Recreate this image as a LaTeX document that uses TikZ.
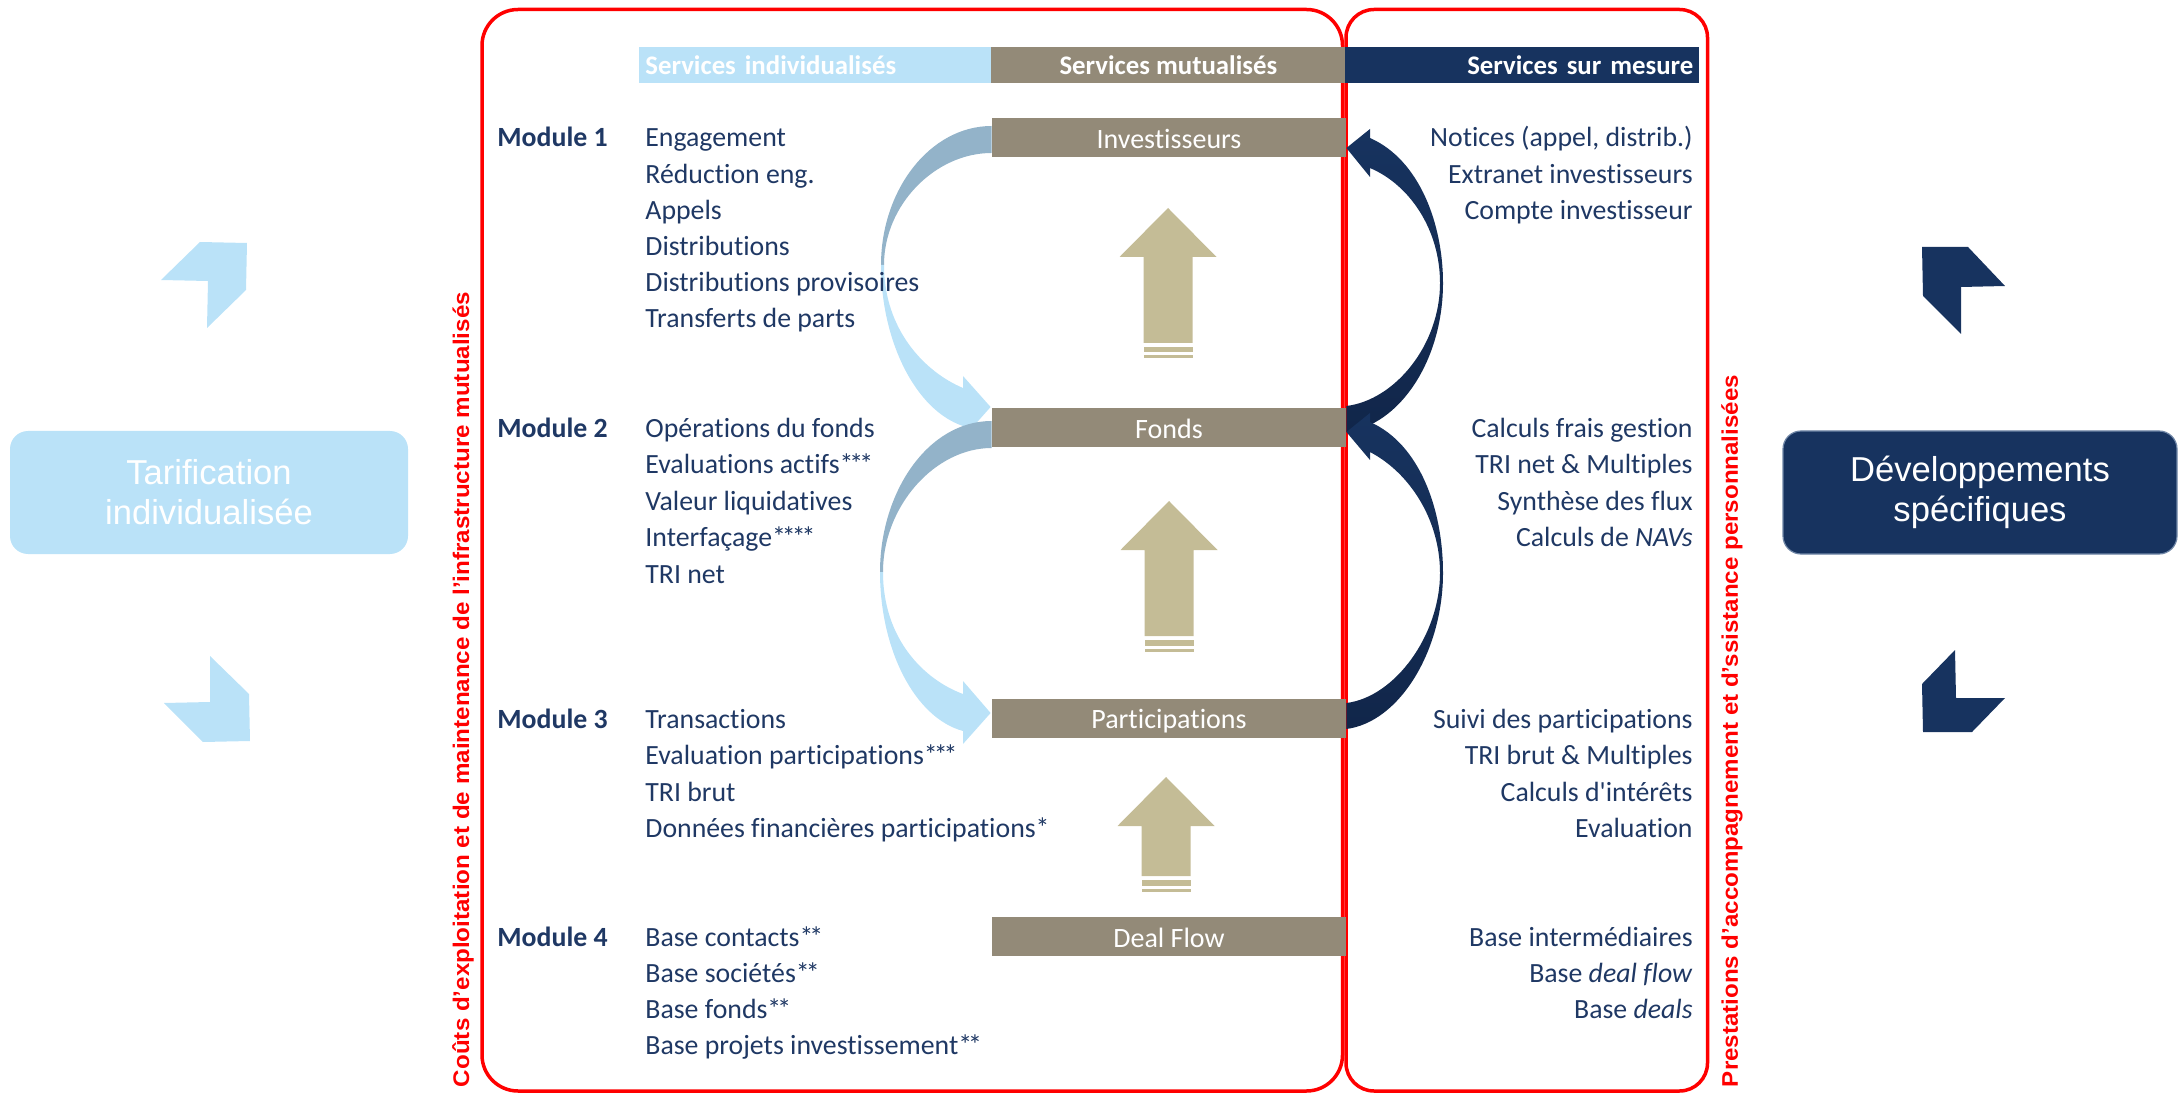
\documentclass[tikz,border=0pt]{standalone}
\usepackage{fontspec}
\usepackage{graphicx}
\setmainfont{Carlito}[Ligatures={TeXOff,NoCommon}]
\newfontfamily\arialf{Liberation Sans}
\usetikzlibrary{calc}
\definecolor{redl}{HTML}{FF0000}
\definecolor{navy}{HTML}{17335F}
\definecolor{navyd}{HTML}{11264A}
\definecolor{txt}{HTML}{1F3864}
\definecolor{lblue}{HTML}{BAE2F8}
\definecolor{steel}{HTML}{93B3C9}
\definecolor{graybar}{HTML}{938A78}
\definecolor{tanc}{HTML}{C4BC96}
\definecolor{devborder}{HTML}{6F86A6}
\newcommand{\stx}{*\kern-2pt}
\pgfdeclarelayer{bgzero}
\pgfdeclarelayer{bgone}
\pgfsetlayers{bgzero,bgone,main}
\begin{document}
\begin{tikzpicture}[x=0.5pt,y=-0.5pt,
  bar/.style={fill=graybar, minimum width=177pt, minimum height=19.5pt, inner sep=0pt, text=white, font=\fontsize{14}{16}\selectfont, text height=10.8pt, text depth=0pt},
  hdr/.style={minimum height=18pt, inner sep=0pt, text=white, font=\bfseries\fontsize{13.4}{16}\selectfont, text height=9pt, text depth=0pt},
  item/.style={anchor=base west, inner sep=0pt, text=txt, font=\fontsize{13.9}{16}\selectfont},
  ritem/.style={anchor=base east, inner sep=0pt, text=txt, font=\fontsize{13.9}{16}\selectfont},
  modl/.style={anchor=base west, inner sep=0pt, text=txt, font=\bfseries\fontsize{13.9}{16}\selectfont},
  frame/.style={draw=redl, line width=1.75pt},
  sidebox/.style={rounded corners=9pt, minimum height=61.5pt, align=center, font=\arialf\fontsize{17.3}{20}\selectfont, text=white, inner sep=0pt},
  vlabel/.style={rotate=90, text=redl, font=\arialf\bfseries\fontsize{11.3}{13}\selectfont, inner sep=0pt},
]
\useasboundingbox (0,0) rectangle (2179,1096);

% frames
\begin{pgfonlayer}{bgzero}
\draw[frame, rounded corners=18pt] (482,9.5) rectangle (1342.5,1091);
\draw[frame, rounded corners=14pt] (1346,9.5) rectangle (1707.5,1091);
\end{pgfonlayer}

% header bars
\node[hdr, fill=lblue, text width=170pt, inner xsep=3pt, align=left, anchor=north west] (hind) at (639,47) {Services individualisés};
\node[hdr, fill=graybar, minimum width=177pt, anchor=north west] (hmut) at (991,47) {Services mutualisés};
\node[hdr, fill=navy, text width=171pt, inner xsep=3pt, align=right, anchor=north west] (hsur) at (1345,47) {Services sur mesure};

% grey bars
\node[bar] (inv) at (1169,137.5) {Investisseurs};
\node[bar] (fonds) at (1169,427.5) {Fonds};
\node[bar] (part) at (1169,718) {Participations};
\node[bar] (deal) at (1169,936.5) {Deal Flow};

% curved arrows
\begin{pgfonlayer}{bgone}
% left: Investisseurs -> Fonds
\fill[steel] ($(inv.west)+(0,-11.5)$) .. controls (930,126) and (881,190) .. (881,265) -- (884,265) .. controls (884,205) and (935,153) .. ($(inv.west)+(0,15.5)$) -- cycle;
\fill[lblue] (881,265) .. controls (881,340) and (915,410) .. (963,426) -- (963,438) -- ($(fonds.west)+(-1,-20.5)$) -- (963,376) -- (963,388) .. controls (925,372) and (884,330) .. (884,265) -- cycle;
% left: Fonds -> Participations
\fill[steel] ($(fonds.west)+(0,-6.5)$) .. controls (928,421) and (880,492) .. (880,572) -- (883,572) .. controls (883,506) and (935,448) .. ($(fonds.west)+(0,20.5)$) -- cycle;
\fill[lblue] (880,572) .. controls (880,650) and (915,718) .. (963,731) -- (963,744) -- ($(part.west)+(-1,-5)$) -- (963,681) -- (963,694) .. controls (925,680) and (883,640) .. (883,572) -- cycle;
% right: Fonds -> Investisseurs
\shade[top color=navy, bottom color=navyd] ($(fonds.east)+(0,-21.5)$) .. controls (1395,400) and (1440,345) .. (1440,283) .. controls (1440,230) and (1410,185) .. (1370,168) -- (1370,177) -- ($(inv.east)+(0,10.5)$) -- (1370,129) -- (1370,138) .. controls (1420,160) and (1443,225) .. (1443,283) .. controls (1443,360) and (1400,425) .. ($(fonds.east)+(0,4.5)$) -- cycle;
% right: Participations -> Fonds
\shade[top color=navy, bottom color=navyd] ($(part.east)+(0,-15)$) .. controls (1395,697) and (1440,635) .. (1440,573) .. controls (1440,520) and (1410,473) .. (1370,452) -- (1370,460) -- ($(fonds.east)+(0,4.5)$) -- (1370,413) -- (1370,422) .. controls (1420,444) and (1443,510) .. (1443,573) .. controls (1443,650) and (1400,722) .. ($(part.east)+(0,11)$) -- cycle;
\end{pgfonlayer}

% tan up arrows
\foreach \x/\t/\b in {1168/208/343, 1169/501/636, 1166/777/876}{
  \fill[tanc] (\x,\t) -- ({\x+48.5},{\t+49}) -- ({\x+24.5},{\t+49}) -- ({\x+24.5},\b) -- ({\x-24.5},\b) -- ({\x-24.5},{\t+49}) -- ({\x-48.5},{\t+49}) -- cycle;
  \fill[tanc] ({\x-24.5},{\b+4}) rectangle ({\x+24.5},{\b+9.5});
  \fill[tanc] ({\x-24.5},{\b+12.5}) rectangle ({\x+24.5},{\b+15.5});
}

% module labels
\node[modl] (mod1) at (497,147) {Module 1};
\node[modl] (mod2) at (497,437.5) {Module 2};
\node[modl] (mod3) at (497,728) {Module 3};
\node[modl] (mod4) at (497,946) {Module 4};

% left items
\foreach \t [count=\i from 0] in {Engagement, Réduction eng., Appels, Distributions, Distributions provisoires, Transferts de parts}
  \node[item] (ma\i) at (645,{147+36.2*\i}) {\t};
\foreach \t [count=\i from 0] in {Opérations du fonds, Evaluations actifs\stx\stx\stx, Valeur liquidatives, Interfaçage\stx\stx\stx\stx, TRI net}
  \node[item] (mb\i) at (645,{437.5+36.4*\i}) {\t};
\foreach \t [count=\i from 0] in {Transactions, Evaluation participations\stx\stx\stx, TRI brut, Données financières participations\stx}
  \node[item] (mc\i) at (645,{728+36.5*\i}) {\t};
\foreach \t [count=\i from 0] in {Base contacts\stx\stx, Base sociétés\stx\stx, Base fonds\stx\stx, Base projets investissement\stx\stx}
  \node[item] (md\i) at (645,{946+36.3*\i}) {\t};

% right items
\foreach \t [count=\i from 0] in {{Notices (appel, distrib.)}, Extranet investisseurs, Compte investisseur}
  \node[ritem] (ra\i) at (1693,{147+36.2*\i}) {\t};
\foreach \t [count=\i from 0] in {Calculs frais gestion, TRI net \& Multiples, Synthèse des flux, Calculs de \textit{NAVs}}
  \node[ritem] (rb\i) at (1693,{437.5+36.4*\i}) {\t};
\foreach \t [count=\i from 0] in {Suivi des participations, TRI brut \& Multiples, Calculs d'intérêts, Evaluation}
  \node[ritem] (rc\i) at (1693,{728+36.5*\i}) {\t};
\foreach \t [count=\i from 0] in {Base intermédiaires, Base \textit{deal flow}, Base \textit{deals}}
  \node[ritem] (rd\i) at (1693,{946+36.3*\i}) {\t};

% vertical labels
\node[vlabel] (lcost) at (463,689.5) {\resizebox{397.5pt}{\height}{Coûts d’exploitation et de maintenance de l’infrastructure mutualisés}};
\node[vlabel] (rprest) at (1732,731) {\resizebox{356pt}{\height}{Prestations d’accompagnement et d’ssistance personnalisées}};

% side boxes
\node[sidebox, fill=lblue, minimum width=199pt] (tarif) at (209,492.5) {Tarification\\individualisée};
\node[sidebox, fill=navy, draw=devborder, line width=0.6pt, minimum width=197pt] (dev) at (1980,492.5) {Développements\\spécifiques};

% chevrons
\fill[lblue] (200,242) -- (247,243) -- (246,290) -- (207,328) -- (208,281) -- (161,280) -- cycle;
\fill[lblue] (210,656) -- (249,694) -- (250,741) -- (203,742) -- (164,703) -- (210,702) -- cycle;
\fill[navy] (1922,247) -- (1968,247) -- (2005,286) -- (1961,287) -- (1961,334) -- (1923,296) -- cycle;
\fill[navy] (1955,650) -- (1956,698) -- (2005,698) -- (1972,732) -- (1923,732) -- (1922,684) -- cycle;
\end{tikzpicture}
\end{document}
